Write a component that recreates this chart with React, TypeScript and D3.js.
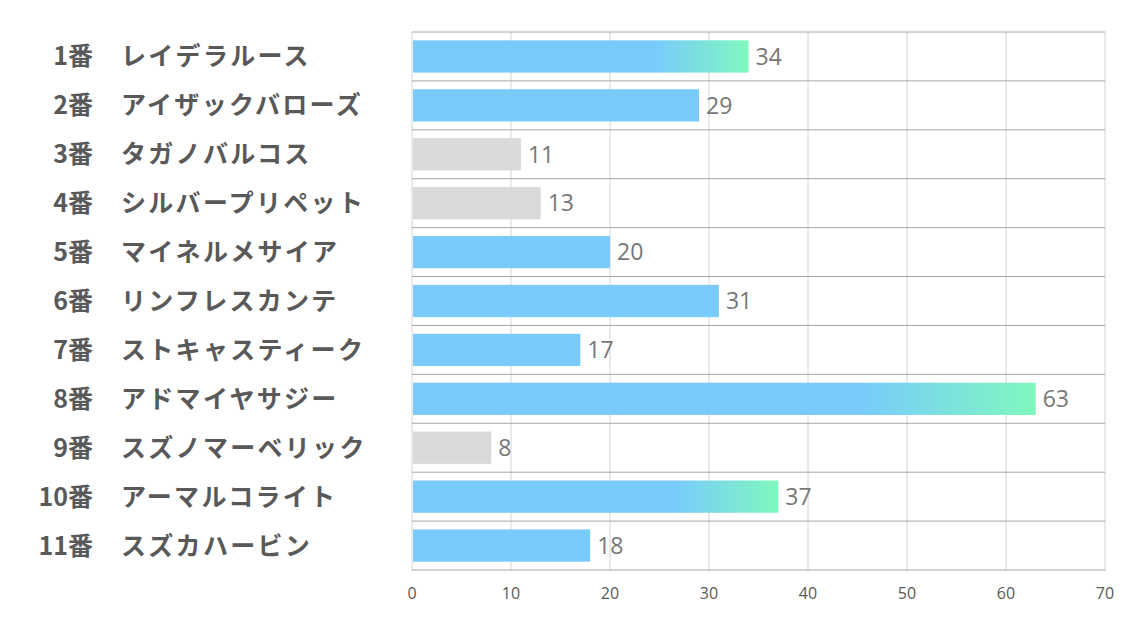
import React from "react";
import * as d3 from "d3";

const numbers = ["1番", "2番", "3番", "4番", "5番", "6番", "7番", "8番", "9番", "10番", "11番"];
const names = [
  "レイデラルース",
  "アイザックバローズ",
  "タガノバルコス",
  "シルバープリペット",
  "マイネルメサイア",
  "リンフレスカンテ",
  "ストキャスティーク",
  "アドマイヤサジー",
  "スズノマーベリック",
  "アーマルコライト",
  "スズカハービン",
];
const values = [34, 29, 11, 13, 20, 31, 17, 63, 8, 37, 18];
const ticks = [0, 10, 20, 30, 40, 50, 60, 70];

const W = 1134;
const H = 623;
const left = 412;
const right = 1105;
const top = 32;
const bottom = 570;

const BLUE = "#79CBFC";
const GREEN = "#7FF8BE";
const GRAY = "#D9D9D9";

export default function App() {
  const x = d3.scaleLinear().domain([0, 70]).range([left, right]);
  const y = d3
    .scaleBand<number>()
    .domain(d3.range(values.length))
    .range([top, bottom])
    .paddingInner(0.34)
    .paddingOuter(0.17);
  const step = (bottom - top) / values.length;

  const sorted = [...values].sort((a, b) => b - a);
  const topThree = sorted.slice(0, 3);
  const bottomThree = sorted.slice(-3);

  const font = "'Noto Sans CJK JP', 'Noto Sans', sans-serif";

  return (
    <svg
      width={W}
      height={H}
      style={{ position: "absolute", left: 0, top: 0, background: "#fff" }}
    >
      <defs>
        <linearGradient id="grad" x1="0" x2="1" y1="0" y2="0">
          <stop offset="0" stopColor={BLUE} />
          <stop offset="0.72" stopColor={BLUE} />
          <stop offset="1" stopColor={GREEN} />
        </linearGradient>
      </defs>
      {/* vertical gridlines */}
      {ticks.map((t) => (
        <line
          key={"v" + t}
          x1={x(t)}
          x2={x(t)}
          y1={top}
          y2={bottom + 1}
          stroke="#D4D4D4"
          strokeWidth={1}
        />
      ))}
      {/* horizontal row lines */}
      {d3.range(values.length + 1).map((i) => (
        <line
          key={"h" + i}
          x1={left}
          x2={right}
          y1={top + i * step}
          y2={top + i * step}
          stroke="#A6A6A6"
          strokeWidth={1}
        />
      ))}
      {/* bars */}
      {values.map((v, i) => {
        const fill = topThree.includes(v)
          ? "url(#grad)"
          : bottomThree.includes(v)
          ? GRAY
          : BLUE;
        return (
          <rect
            key={"b" + i}
            x={x(0) + 1}
            y={y(i)!}
            width={x(v) - x(0) - 1}
            height={y.bandwidth()}
            fill={fill}
          />
        );
      })}
      {/* value labels */}
      {values.map((v, i) => (
        <text
          key={"l" + i}
          x={x(v) + 7}
          y={y(i)! + y.bandwidth() / 2}
          dy="0.36em"
          fontFamily="'Open Sans', 'Noto Sans', sans-serif"
          fontSize={23}
          fill="#777777"
        >
          {v}
        </text>
      ))}
      {/* category labels */}
      {values.map((_, i) => (
        <g key={"c" + i} fontFamily={font} fontWeight="bold" fontSize={25} fill="#595959">
          <text x={93} y={y(i)! + y.bandwidth() / 2} dy="0.36em" textAnchor="end">
            {numbers[i]}
          </text>
          <text x={121} y={y(i)! + y.bandwidth() / 2} dy="0.36em" letterSpacing={2.3}>
            {names[i]}
          </text>
        </g>
      ))}
      {/* x tick labels */}
      {ticks.map((t) => (
        <text
          key={"t" + t}
          x={x(t)}
          y={593}
          dy="0.36em"
          textAnchor="middle"
          fontFamily="'Open Sans', 'Noto Sans', sans-serif"
          fontSize={16}
          fill="#595959"
        >
          {t}
        </text>
      ))}
    </svg>
  );
}
